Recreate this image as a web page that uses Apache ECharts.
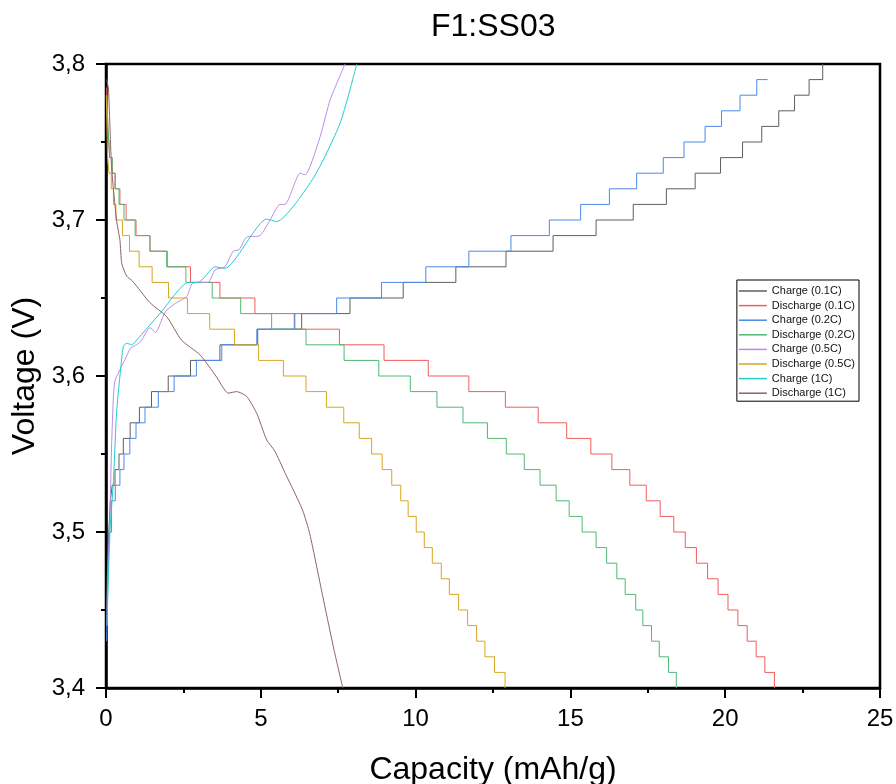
<!DOCTYPE html>
<html>
<head>
<meta charset="utf-8">
<title>F1:SS03</title>
<script src="https://cdn.jsdelivr.net/npm/echarts@6/dist/echarts.min.js"></script>
<style>
    html, body { margin: 0; padding: 0; background: #fff; }
    #chart { width: 896px; height: 784px; }
</style>
</head>
<body>
<div id="chart"></div>
<script>
// staircase curves: [capacity where the step happens, new voltage]
const charge01 = [
    [0.02, 3.45], [0.05, 3.48], [0.09, 3.50], [0.14, 3.52], [0.2, 3.53],
    [0.29, 3.54], [0.42, 3.55], [0.56, 3.56], [0.78, 3.57], [1.08, 3.58],
    [1.47, 3.59], [2.01, 3.60], [2.73, 3.61], [3.68, 3.62], [4.9, 3.63],
    [6.32, 3.64], [7.88, 3.65], [9.6, 3.66], [11.3, 3.67], [12.92, 3.68],
    [14.44, 3.69], [15.83, 3.70], [17.03, 3.71], [18.1, 3.72], [19.03, 3.73],
    [19.85, 3.74], [20.56, 3.75], [21.18, 3.76], [21.73, 3.77], [22.24, 3.78],
    [22.71, 3.79], [23.15, 3.80]
];
const discharge01 = [
    [0.02, 3.785], [0.06, 3.76], [0.12, 3.74], [0.2, 3.73], [0.29, 3.72],
    [0.45, 3.71], [0.65, 3.70], [0.97, 3.69], [1.42, 3.68], [1.98, 3.67],
    [2.73, 3.66], [3.68, 3.65], [4.81, 3.64], [6.10, 3.63], [7.54, 3.62],
    [8.98, 3.61], [10.41, 3.60], [11.72, 3.59], [12.90, 3.58], [13.96, 3.57],
    [14.88, 3.56], [15.66, 3.55], [16.34, 3.54], [16.92, 3.53], [17.45, 3.52],
    [17.90, 3.51], [18.34, 3.50], [18.71, 3.49], [19.07, 3.48], [19.43, 3.47],
    [19.77, 3.46], [20.09, 3.45], [20.41, 3.44], [20.71, 3.43], [21.00, 3.42],
    [21.28, 3.41], [21.59, 3.40]
];
const charge02 = [
    [0.02, 3.43], [0.05, 3.47], [0.1, 3.50], [0.18, 3.52], [0.3, 3.53],
    [0.45, 3.54], [0.58, 3.55], [0.77, 3.56], [0.97, 3.57], [1.26, 3.58],
    [1.69, 3.59], [2.20, 3.60], [2.92, 3.61], [3.74, 3.62], [4.87, 3.63],
    [6.08, 3.64], [7.45, 3.65], [8.9, 3.66], [10.33, 3.67], [11.72, 3.68],
    [13.08, 3.69], [14.32, 3.70], [15.33, 3.71], [16.26, 3.72], [17.14, 3.73],
    [18.0, 3.74], [18.67, 3.75], [19.35, 3.76], [19.88, 3.77], [20.48, 3.78],
    [21.02, 3.79], [21.37, 3.79]
];
const discharge02 = [
    [0.02, 3.78], [0.06, 3.76], [0.12, 3.74], [0.2, 3.73], [0.3, 3.72],
    [0.42, 3.71], [0.58, 3.70], [0.94, 3.69], [1.42, 3.68], [1.96, 3.67],
    [2.58, 3.66], [3.43, 3.65], [4.35, 3.64], [5.35, 3.63], [6.46, 3.62],
    [7.69, 3.61], [8.81, 3.60], [9.83, 3.59], [10.69, 3.58], [11.53, 3.57],
    [12.32, 3.56], [12.93, 3.55], [13.51, 3.54], [14.02, 3.53], [14.54, 3.52],
    [14.96, 3.51], [15.38, 3.50], [15.83, 3.49], [16.17, 3.48], [16.50, 3.47],
    [16.77, 3.46], [17.11, 3.45], [17.34, 3.44], [17.62, 3.43], [17.87, 3.42],
    [18.17, 3.41], [18.42, 3.40]
];
const discharge05 = [
    [0.01, 3.78], [0.03, 3.76], [0.05, 3.74], [0.1, 3.73], [0.17, 3.72],
    [0.24, 3.71], [0.32, 3.70], [0.53, 3.69], [0.76, 3.68], [1.07, 3.67],
    [1.49, 3.66], [2.02, 3.65], [2.63, 3.64], [3.35, 3.63], [4.15, 3.62],
    [4.93, 3.61], [5.73, 3.60], [6.46, 3.59], [7.12, 3.58], [7.68, 3.57],
    [8.18, 3.56], [8.58, 3.55], [8.92, 3.54], [9.23, 3.53], [9.52, 3.52],
    [9.76, 3.51], [10.02, 3.50], [10.28, 3.49], [10.54, 3.48], [10.83, 3.47],
    [11.09, 3.46], [11.39, 3.45], [11.68, 3.44], [11.97, 3.43], [12.24, 3.42],
    [12.55, 3.41], [12.89, 3.40]
];
// continuous curves: [capacity, voltage]
const charge05 = [
    [0.03, 3.44], [0.06, 3.47], [0.13, 3.512], [0.18, 3.555], [0.24, 3.587],
    [0.29, 3.597], [0.40, 3.602], [0.6, 3.61], [0.8, 3.618], [0.99, 3.620],
    [1.15, 3.623], [1.42, 3.631], [1.6, 3.628], [1.91, 3.641], [2.2, 3.646],
    [2.61, 3.651], [2.77, 3.659], [2.93, 3.660], [3.30, 3.660], [3.52, 3.668],
    [3.84, 3.670], [4.11, 3.680], [4.3, 3.681], [4.54, 3.689], [4.97, 3.690],
    [5.30, 3.700], [5.62, 3.710], [5.78, 3.710], [6.27, 3.730], [6.43, 3.729],
    [6.91, 3.753], [7.24, 3.777], [7.72, 3.80]
];
const charge1 = [
    [0.03, 3.44], [0.13, 3.501], [0.24, 3.533], [0.34, 3.576], [0.45, 3.600],
    [0.56, 3.619], [0.67, 3.621], [0.83, 3.620], [0.99, 3.623], [1.74, 3.640],
    [2.66, 3.660], [2.98, 3.660], [3.52, 3.670], [3.84, 3.669], [5.19, 3.7006],
    [5.51, 3.699], [6.70, 3.727], [7.56, 3.762], [8.10, 3.80]
];
const discharge1 = [
    [0.02, 3.79], [0.08, 3.784], [0.18, 3.734], [0.34, 3.70], [0.45, 3.687],
    [0.51, 3.672], [0.67, 3.664], [0.85, 3.661], [1.42, 3.647], [1.96, 3.638],
    [2.44, 3.623], [3.04, 3.6135], [3.55, 3.60], [3.95, 3.589], [4.22, 3.590],
    [4.54, 3.587], [4.87, 3.576], [5.19, 3.559], [5.45, 3.552], [5.78, 3.538],
    [6.0, 3.529], [6.35, 3.514], [6.58, 3.499], [7.03, 3.456], [7.37, 3.424],
    [7.65, 3.400]
];

const seriesNames = [
    "Charge (0.1C)", "Discharge (0.1C)", "Charge (0.2C)", "Discharge (0.2C)",
    "Charge (0.5C)", "Discharge (0.5C)", "Charge (1C)", "Discharge (1C)"
];
const seriesData = [charge01, discharge01, charge02, discharge02, charge05, discharge05, charge1, discharge1];
const seriesColors = ["#5e5e5e", "#f25c5c", "#4a8ae8", "#52b873", "#b98ce8", "#d9a521", "#22cccc", "#8c6464"];
const stepped = [true, true, true, true, false, true, false, false];

const yTicks = [3.4, 3.5, 3.6, 3.7, 3.8];

document.addEventListener("DOMContentLoaded", function () {
    drawChart("chart");
});

function drawChart(domId) {
    const font = "'Liberation Sans', Arial, sans-serif";
    const chart = echarts.init(document.getElementById(domId), null, { renderer: "canvas" });

    const series = seriesNames.map(function (name, i) {
        return {
            name: name,
            type: "line",
            data: seriesData[i],
            step: stepped[i] ? "end" : false,
            smooth: stepped[i] ? false : 0.2,
            symbol: "none",
            showSymbol: false,
            color: seriesColors[i],
            lineStyle: { width: 1, color: seriesColors[i] },
            animation: false,
        };
    });

    const option = {
        backgroundColor: "#fff",
        animation: false,
        title: {
            text: "F1:SS03",
            left: 426, // centred over the plot box, not the page
            top: 6,
            textStyle: { fontFamily: font, fontSize: 32, fontWeight: "normal", color: "#000" },
        },
        grid: {
            left: 106,
            right: 16,
            top: 64,
            bottom: 96,
            outerBoundsMode: "none", // keep the plot box fixed
            show: true,
            borderColor: "#000",
            borderWidth: 2.5,
        },
        legend: {
            orient: "vertical",
            right: 37,
            top: 280,
            data: seriesNames,
            icon: "rect",
            itemWidth: 28,
            itemHeight: 1.5,
            itemGap: 2.6,
            padding: [5, 4, 2, 2],
            borderColor: "#000",
            borderWidth: 1,
            textStyle: { fontFamily: font, fontSize: 11, color: "#111", lineHeight: 12 },
        },
        xAxis: {
            type: "value",
            min: 0,
            max: 25,
            interval: 5,
            name: "Capacity (mAh/g)",
            nameLocation: "middle",
            nameGap: 66,
            nameTextStyle: { fontFamily: font, fontSize: 32, color: "#000" },
            axisLine: { show: true, lineStyle: { color: "#000", width: 2.5 } },
            axisTick: { show: true, inside: false, length: 10, lineStyle: { color: "#000", width: 2 } },
            minorTick: { show: true, splitNumber: 2, length: 5, lineStyle: { color: "#000", width: 2 } },
            splitLine: { show: false },
            axisLabel: { fontFamily: font, fontSize: 24, color: "#000", margin: 19 },
        },
        yAxis: {
            type: "value",
            min: yTicks[0],
            max: yTicks[yTicks.length - 1],
            interval: 0.1,
            name: "Voltage (V)",
            nameLocation: "middle",
            nameGap: 65,
            nameTextStyle: { fontFamily: font, fontSize: 32, color: "#000" },
            axisLine: { show: true, lineStyle: { color: "#000", width: 2.5 } },
            axisTick: { show: true, inside: false, length: 10, lineStyle: { color: "#000", width: 2 } },
            minorTick: { show: true, splitNumber: 2, length: 5, lineStyle: { color: "#000", width: 2 } },
            splitLine: { show: false },
            axisLabel: {
                fontFamily: font,
                fontSize: 24,
                color: "#000",
                margin: 21,
                formatter: function (v) {
                    return v.toFixed(1).replace(".", ",");
                },
            },
        },
        series: series,
    };

    chart.setOption(option);
}
</script>
</body>
</html>
